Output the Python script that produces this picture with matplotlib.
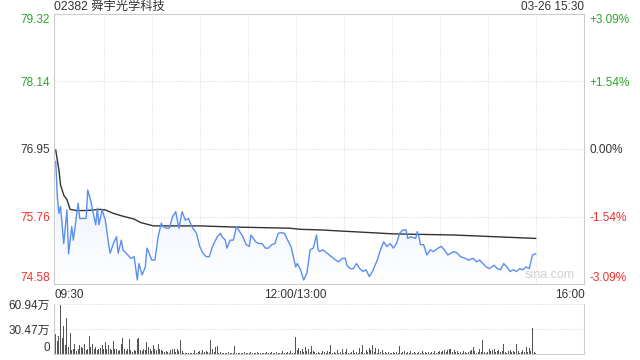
import matplotlib
matplotlib.use("Agg")
import matplotlib.pyplot as plt
import numpy as np
from matplotlib.colors import LinearSegmentedColormap

plt.rcParams['font.family'] = ['Liberation Sans', 'Noto Sans CJK SC', 'DejaVu Sans']

title = "02382 舜宇光学科技"
stamp = "03-26 15:30"
pre_close = 76.95
y_ticks = [74.58, 75.76, 76.95, 78.14, 79.32]
y_labels_left = ["74.58", "75.76", "76.95", "78.14", "79.32"]
y_labels_right = ["-3.09%", "-1.54%", "0.00%", "+1.54%", "+3.09%"]
x_label_text = ["09:30", "12:00/13:00", "16:00"]
vol_ticks = [0, 30.47, 60.94]
vol_labels = ["0", "30.47万", "60.94万"]

price_min = [0, 1, 2, 3, 5, 7, 8, 10, 11, 14, 15, 17, 19, 20, 22, 23, 25, 26, 27, 29,
             31, 33, 34, 36, 38, 39, 41, 42, 45, 47, 49, 51, 52, 54, 56, 57, 58, 60, 62, 64,
             66, 67, 69, 71, 73, 75, 76, 77, 79, 81, 83, 85, 88, 90, 92, 94, 96, 98, 101, 103,
             104, 106, 107, 109, 111, 113, 115, 117, 119, 121, 122, 125, 127, 129, 131, 133, 135, 137, 139, 141,
             143, 145, 147, 150, 151, 153, 155, 157, 159, 161, 163, 164, 165, 167, 171, 175, 177, 179, 181, 182,
             184, 186, 188, 190, 192, 194, 196, 198, 201, 203, 205, 207, 209, 211, 213, 215, 217, 219, 220, 222,
             225, 226, 227, 228, 230, 232, 234, 236, 239, 241, 243, 245, 249, 251, 253, 256, 258, 261, 263, 265,
             267, 269, 271, 274, 276, 278, 280, 282, 284, 286, 288, 290, 292, 294, 296, 298, 300]
price = [76.73, 76.11, 75.82, 75.94, 75.29, 75.88, 75.11, 75.59, 75.35, 76.00, 75.73, 75.73, 75.73, 76.23, 76.03, 75.88, 75.62, 75.91, 75.62, 75.88,
         75.70, 75.29, 75.12, 75.29, 75.41, 75.12, 75.35, 75.18, 75.09, 75.03, 75.06, 74.65, 74.94, 74.74, 74.88, 75.21, 75.15, 75.00, 75.00, 75.41,
         75.65, 75.59, 75.56, 75.56, 75.76, 75.85, 75.70, 75.56, 75.85, 75.70, 75.73, 75.59, 75.47, 75.24, 75.12, 75.06, 75.06, 75.24, 75.41, 75.47,
         75.41, 75.35, 75.21, 75.35, 75.35, 75.59, 75.50, 75.41, 75.27, 75.24, 75.44, 75.32, 75.29, 75.29, 75.21, 75.21, 75.27, 75.29, 75.47, 75.48,
         75.47, 75.35, 75.24, 74.88, 74.94, 74.83, 74.65, 74.77, 75.18, 75.21, 75.44, 75.18, 75.15, 75.18, 75.09, 75.00, 74.97, 75.03, 75.03, 74.91,
         74.85, 74.85, 74.94, 74.85, 74.80, 74.83, 74.71, 74.80, 75.00, 75.18, 75.32, 75.24, 75.29, 75.21, 75.29, 75.47, 75.53, 75.53, 75.38, 75.41,
         75.38, 75.50, 75.41, 75.27, 75.27, 75.09, 75.18, 75.15, 75.21, 75.24, 75.18, 75.09, 75.15, 75.12, 75.06, 75.03, 75.00, 75.03, 74.97, 75.00,
         74.94, 74.88, 74.85, 74.91, 74.85, 74.83, 74.94, 74.88, 74.80, 74.83, 74.80, 74.85, 74.83, 74.88, 74.85, 75.09, 75.11]

avg_min = [0, 2, 3, 5, 7, 9, 13, 19, 28, 31, 36, 42, 49, 53, 61, 69, 90, 111, 146, 153, 165, 211, 249, 300]
avg_price = [76.93, 76.58, 76.32, 76.14, 76.06, 75.89, 75.87, 75.87, 75.89, 75.88, 75.82, 75.77, 75.72, 75.66,
             75.60, 75.60, 75.60, 75.58, 75.56, 75.54, 75.53, 75.46, 75.44, 75.38]

volume = [25, 16, 22, 60, 20, 34, 11, 44, 9, 26, 5, 6, 13, 4, 7, 11, 9, 8, 13, 5,
          7, 22, 9, 13, 7, 9, 5, 7, 8, 11, 7, 15, 6, 11, 6, 5, 16, 6, 7, 4,
          5, 12, 20, 7, 4, 7, 19, 5, 3, 5, 4, 19, 20, 5, 4, 7, 5, 15, 9, 6,
          4, 11, 6, 5, 12, 7, 5, 4, 3, 4, 3, 2, 5, 7, 6, 3, 7, 4, 17, 4,
          2, 1, 2, 1, 1, 2, 1, 5, 2, 3, 4, 2, 5, 3, 4, 3, 2, 17, 6, 3,
          9, 10, 2, 3, 2, 1, 2, 2, 3, 1, 2, 2, 10, 2, 1, 2, 1, 2, 3, 2,
          1, 2, 3, 2, 1, 2, 3, 2, 1, 2, 1, 2, 3, 2, 1, 3, 2, 1, 3, 2,
          1, 2, 4, 2, 1, 3, 2, 4, 2, 1, 21, 5, 8, 4, 7, 3, 9, 4, 6, 3,
          10, 4, 3, 2, 3, 1, 2, 4, 3, 2, 4, 3, 11, 2, 3, 2, 5, 2, 3, 6,
          2, 3, 6, 2, 1, 3, 5, 2, 3, 2, 8, 3, 11, 2, 5, 3, 8, 5, 11, 3,
          8, 2, 6, 3, 5, 2, 3, 2, 3, 1, 2, 3, 2, 3, 2, 10, 2, 3, 4, 2,
          3, 2, 4, 2, 3, 1, 2, 3, 2, 4, 2, 3, 2, 3, 2, 3, 2, 4, 2, 3,
          4, 3, 4, 5, 3, 5, 6, 7, 3, 5, 3, 4, 2, 3, 2, 4, 3, 2, 3, 4,
          5, 9, 4, 2, 3, 6, 3, 17, 3, 2, 3, 7, 4, 5, 6, 3, 4, 5, 3, 4,
          13, 3, 2, 4, 5, 3, 4, 3, 13, 4, 2, 3, 5, 3, 9, 3, 8, 4, 32, 3, 2]

GREEN = '#2ba52b'
RED = '#f0302a'
DARK = '#333333'
BLUE = '#5a8ff0'
GRID = '#d9d9d9'
SPINE = '#cccccc'
FS = 8.5

fig = plt.figure(figsize=(6.4, 3.6), dpi=100)
W, H = 640, 360
x0, x1 = 54.3, 584.3

def box(top, bottom):
    return [x0 / W, 1 - bottom / H, (x1 - x0) / W, (bottom - top) / H]

ax = fig.add_axes(box(14, 284))
axv = fig.add_axes(box(304.3, 354.3))

xmin, xmax = -0.9, 330.4
GLS = (0, (1, 1.5))
# price panel
ax.set_xlim(xmin, xmax)
ax.set_ylim(y_ticks[0], y_ticks[-1])
poly = ax.fill_between(price_min, price, y_ticks[0], color='none', lw=0)
cmap = LinearSegmentedColormap.from_list('g', ['#ffffff', '#e4eefc'])
grad = np.linspace(0, 1, 100).reshape(-1, 1)
im = ax.imshow(grad, cmap=cmap, aspect='auto', origin='lower',
               extent=[0, 300, y_ticks[0], max(price)], zorder=1, alpha=0.9)
im.set_clip_path(poly.get_paths()[0], transform=ax.transData)
for t in range(30, 330, 30):
    ax.axvline(t, color=GRID, lw=0.7, ls=GLS, zorder=0.5)
for yv in y_ticks[1:-1]:
    ax.axhline(yv, color=GRID, lw=0.7, ls=GLS, zorder=0.5)
ax.plot(price_min, price, color=BLUE, lw=1.0, zorder=3)
ax.plot(avg_min, avg_price, color=DARK, lw=1.0, zorder=2)
for s in ax.spines.values():
    s.set_color(SPINE)
    s.set_linewidth(0.8)
ax.set_xticks([])
ax.set_yticks(y_ticks)
ax.set_yticklabels(y_labels_left)
ax.tick_params(axis='y', length=0, pad=3, labelsize=FS)
colors_left = [RED, RED, DARK, GREEN, GREEN]
for lab, c in zip(ax.get_yticklabels(), colors_left):
    lab.set_color(c)
labs = ax.get_yticklabels()
labs[0].set_va('bottom')
labs[-1].set_va('top')

axr = ax.twinx()
axr.set_ylim(y_ticks[0], y_ticks[-1])
axr.set_yticks(y_ticks)
axr.set_yticklabels(y_labels_right)
axr.tick_params(axis='y', length=0, pad=4, labelsize=FS)
for lab, c in zip(axr.get_yticklabels(), colors_left):
    lab.set_color(c)
rl = axr.get_yticklabels()
rl[0].set_va('bottom')
rl[-1].set_va('top')
for s in axr.spines.values():
    s.set_visible(False)

ax.text(0.0, 1.003, title, transform=ax.transAxes, ha='left', va='bottom',
        fontsize=8.8, color=DARK)
ax.text(1.0, 1.003, stamp, transform=ax.transAxes, ha='right', va='bottom',
        fontsize=FS, color=DARK)
ax.text(0.982, 0.012, "sina.com", transform=ax.transAxes, ha='right', va='bottom',
        fontsize=9, color='#d0d0d0', zorder=4)

# time labels
ax.text(0.0, -0.018, x_label_text[0], transform=ax.transAxes, ha='left', va='top', fontsize=FS, color=DARK)
ax.text(150, -0.018, x_label_text[1], transform=ax.get_xaxis_transform(), ha='center', va='top', fontsize=FS, color=DARK)
ax.text(1.0, -0.018, x_label_text[2], transform=ax.transAxes, ha='right', va='top', fontsize=FS, color=DARK)

# volume panel
axv.set_xlim(xmin, xmax)
axv.set_ylim(0, vol_ticks[-1])
axv.bar(np.arange(len(volume)), volume, width=0.65, color='#555555', zorder=2)
for yv in vol_ticks[1:]:
    axv.axhline(yv, color=GRID, lw=0.7, ls=GLS, zorder=0.5, clip_on=False)
axv.spines['top'].set_visible(False)
for k in ['left', 'right', 'bottom']:
    axv.spines[k].set_color(SPINE)
    axv.spines[k].set_linewidth(0.8)
axv.set_xticks([])
axv.set_yticks(vol_ticks)
axv.set_yticklabels(vol_labels)
axv.tick_params(axis='y', length=0, pad=3, labelsize=FS, labelcolor=DARK)
axv.get_yticklabels()[0].set_va('bottom')

fig.savefig("out.png", dpi=100)
